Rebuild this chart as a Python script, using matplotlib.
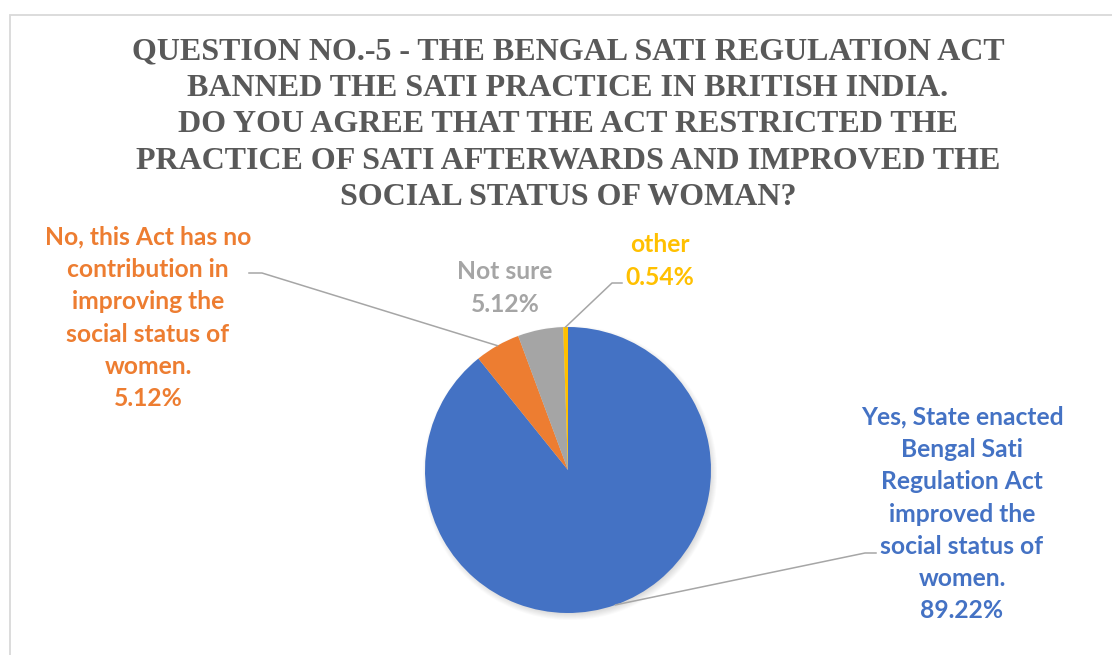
import numpy as np
import matplotlib
matplotlib.use("Agg")
import matplotlib.pyplot as plt

# Survey responses
categories = [
    "Yes, State enacted\nBengal Sati\nRegulation Act\nimproved the\nsocial status of\nwomen.",
    "No, this Act has no\ncontribution in\nimproving the\nsocial status of\nwomen.",
    "Not sure",
    "other",
]
shares = [89.22, 5.12, 5.12, 0.54]
colors = ["#4472C4", "#ED7D31", "#A5A5A5", "#FFC000"]

title = ("QUESTION NO.-5 - THE BENGAL SATI REGULATION ACT\n"
         "BANNED THE SATI PRACTICE IN BRITISH INDIA.\n"
         "DO YOU AGREE THAT THE ACT RESTRICTED THE\n"
         "PRACTICE OF SATI AFTERWARDS AND IMPROVED THE\n"
         "SOCIAL STATUS OF WOMAN?")

W, H = 1112, 655
fig = plt.figure(figsize=(W / 100, H / 100), dpi=100)
ax = fig.add_axes([0, 0, 1, 1])
ax.set_xlim(0, W)
ax.set_ylim(0, H)
ax.set_aspect("equal")
ax.axis("off")

def Y(y):
    return H - y

# chart frame
ax.plot([10, 10, W], [0, Y(15), Y(15)], color="#D9D9D9", lw=1.3, solid_joinstyle="miter")

cx, cy, R = 568, Y(470), 143

# soft drop shadow under the pie
xs = np.arange(cx - R - 20, cx + R + 20)
ys = np.arange(cy - R - 20, cy + R + 20)
gx, gy = np.meshgrid(xs, ys)
d = np.hypot(gx - (cx + 2), gy - (cy - 3))
alpha = np.clip((R + 5 - d) / 8.0, 0, 1) * 0.28
rgba = np.zeros(gx.shape + (4,))
rgba[..., :3] = 0.45
rgba[..., 3] = alpha
ax.imshow(rgba, extent=(xs[0], xs[-1], ys[0], ys[-1]), origin="lower",
          zorder=1, interpolation="bilinear")

wedges, _ = ax.pie(shares, colors=colors, startangle=90, counterclock=False,
                   center=(cx, cy), radius=R, frame=True,
                   wedgeprops=dict(linewidth=0, zorder=2))
ax.set_xlim(0, W)
ax.set_ylim(0, H)
ax.axis("off")

def edge_point(w):
    ang = np.deg2rad((w.theta1 + w.theta2) / 2)
    return cx + R * np.cos(ang), cy + R * np.sin(ang)

title_font = dict(family="Liberation Serif", weight="bold", color="#595959")
ax.text(568, Y(125), title, ha="center", va="center", fontsize=23,
        linespacing=1.335, **title_font)

lab_font = dict(family="Lato", weight="bold", fontsize=17.7)
lsp = 1.49

# label anchors (center of text block) and leader elbows
label_pos = [(962, Y(514)), (148, Y(318)), (505, Y(288)), (660, Y(261))]
elbows = [((865, Y(553)), (876, Y(553))),
          ((262, Y(273)), (249, Y(273))),
          None,
          ((612, Y(283)), (622, Y(283)))]

for w, cat, val, col, pos, elb in zip(wedges, categories, shares, colors, label_pos, elbows):
    txt = f"{cat}\n{val:.2f}%"
    ax.text(pos[0], pos[1], txt, ha="center", va="center", color=col,
            linespacing=lsp, **lab_font, zorder=5)
    if elb is not None:
        px, py = edge_point(w)
        ax.plot([px, elb[0][0], elb[1][0]], [py, elb[0][1], elb[1][1]],
                color="#A6A6A6", lw=1.1, zorder=4)

fig.savefig("out.png", dpi=100)
